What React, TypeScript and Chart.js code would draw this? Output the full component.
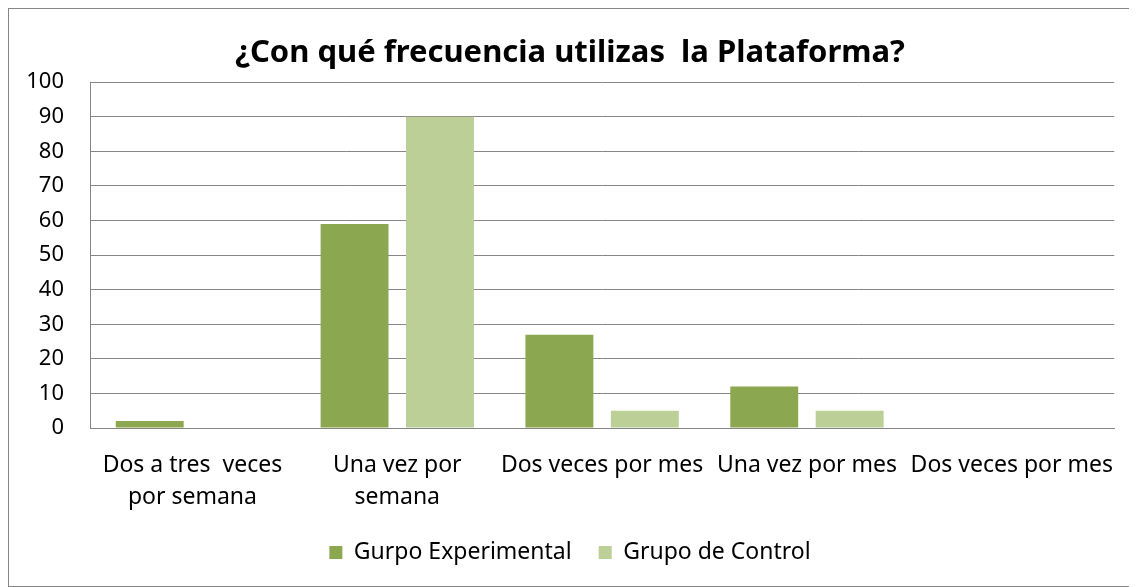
import React, { useEffect, useRef } from "react";
import { Chart, registerables } from "chart.js";

Chart.register(...registerables);

const categories: (string | string[])[] = [
  ["Dos a tres  veces", "por semana"],
  ["Una vez por", "semana"],
  "Dos veces por mes",
  "Una vez por mes",
  "Dos veces por mes",
];
const experimental = [2, 59, 27, 12, 0];
const control = [0, 90, 5, 5, 0];
const seriesNames = ["Gurpo Experimental", "Grupo de Control"];
const titleText = "¿Con qué frecuencia utilizas  la Plataforma?";

const FONT = "'Noto Sans', 'Open Sans', sans-serif";

export default function App() {
  const ref = useRef<HTMLCanvasElement | null>(null);
  useEffect(() => {
    if (!ref.current) return;
    const chart = new Chart(ref.current, {
      type: "bar",
      data: {
        labels: categories,
        datasets: [
          {
            label: seriesNames[0],
            data: experimental,
            backgroundColor: "#8BA74F",
            borderWidth: 0,
            categoryPercentage: 0.834,
            barPercentage: 0.795,
          },
          {
            label: seriesNames[1],
            data: control,
            backgroundColor: "#BBCF97",
            borderWidth: 0,
            categoryPercentage: 0.834,
            barPercentage: 0.795,
          },
        ],
      },
      options: {
        animation: false,
        responsive: false,
        maintainAspectRatio: false,
        layout: { padding: { left: 15, right: 20, top: 0, bottom: 12 } },
        plugins: {
          title: {
            display: true,
            text: titleText,
            color: "#000",
            font: { family: FONT, size: 31, weight: "bold" },
            padding: { top: 26, bottom: 10 },
          },
          legend: {
            position: "bottom",
            labels: {
              color: "#000",
              font: { family: FONT, size: 23 },
              boxWidth: 13,
              boxHeight: 13,
              padding: 27,
            },
          },
          tooltip: { enabled: false },
        },
        scales: {
          x: {
            afterFit: (s: any) => {
              s.height = 86;
            },
            grid: { display: false, drawTicks: false },
            border: { display: true, color: "#868686", width: 1 },
            ticks: {
              color: "#000",
              font: { family: FONT, size: 23, lineHeight: 1.4 },
              padding: 21,
              maxRotation: 0,
              autoSkip: false,
            },
          },
          y: {
            min: 0,
            max: 100,
            afterFit: (s: any) => {
              s.width = 66;
            },
            grid: { color: "#868686", lineWidth: 1, drawTicks: false },
            border: { display: true, color: "#868686", width: 1 },
            ticks: {
              stepSize: 10,
              color: "#000",
              font: { family: FONT, size: 22 },
              padding: 26,
            },
          },
        },
      },
    });
    return () => chart.destroy();
  }, []);
  return (
    <div
      style={{
        width: 1129,
        height: 579,
        boxSizing: "border-box",
        border: "1px solid #868686",
        background: "#fff",
      }}
    >
      <canvas ref={ref} width={1127} height={577} style={{ display: "block" }} />
    </div>
  );
}
